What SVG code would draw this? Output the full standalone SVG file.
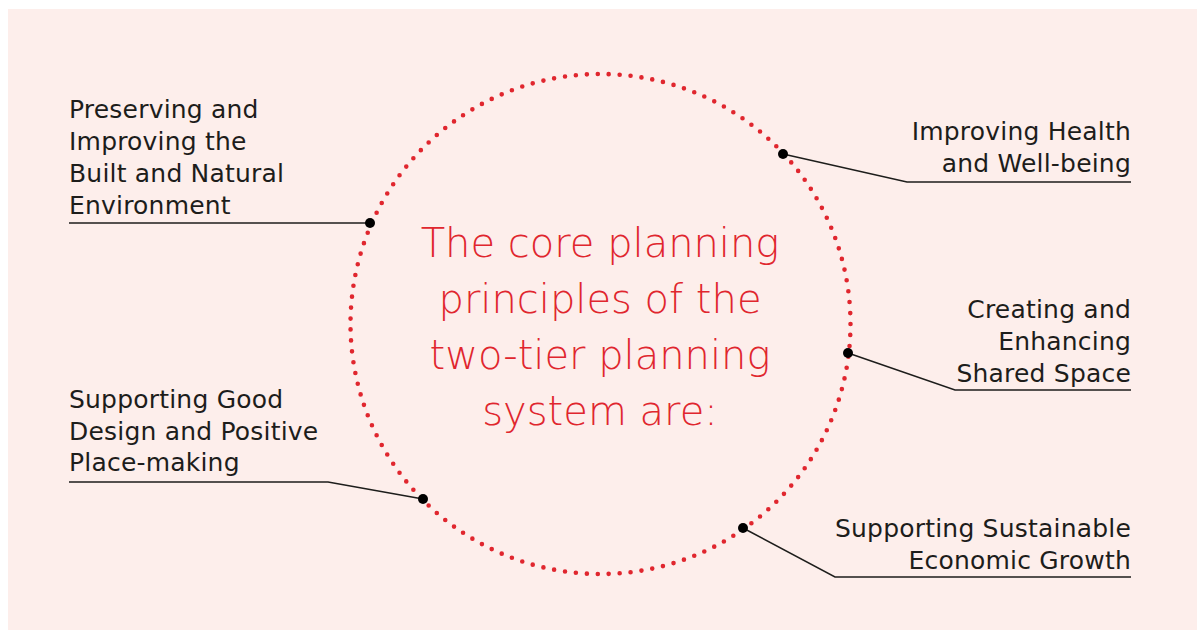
<svg xmlns="http://www.w3.org/2000/svg" width="1197" height="630" viewBox="0 0 1197 630">
<style>
.lbl{font-family:"DejaVu Sans","Liberation Sans",sans-serif;font-size:25px;letter-spacing:0.2px;fill:#1d1d1b}
.r{text-anchor:end}
.title{font-family:"DejaVu Sans","Liberation Sans",sans-serif;font-size:40px;font-weight:200;fill:#e0262e;text-anchor:middle}
.conn{fill:none;stroke:#1d1d1b;stroke-width:1.5}
.dot{fill:#000}
</style>
<rect x="8" y="9" width="1189" height="621" fill="#fdeeeb"/>
<g id="circle">
<circle cx="600.5" cy="324" r="250" fill="none" stroke="#e0262e" stroke-width="4.6" stroke-linecap="round" pathLength="143" stroke-dasharray="0 1"/>
<text class="title" x="600" y="257">The core planning</text>
<text class="title" x="600" y="313">principles of the</text>
<text class="title" x="600" y="369">two-tier planning</text>
<text class="title" x="600" y="425">system are:</text>
</g>
<g id="connectors">
<polyline class="conn" points="69,223 370,223"/>
<polyline class="conn" points="1131,182 907,182 783,154"/>
<polyline class="conn" points="1131,390 955,390 848,353"/>
<polyline class="conn" points="69,482 328,482 423,499"/>
<polyline class="conn" points="1131,577 835,577 743,528"/>
<circle class="dot" cx="370" cy="223" r="5"/>
<circle class="dot" cx="783" cy="154" r="5"/>
<circle class="dot" cx="848" cy="353" r="5"/>
<circle class="dot" cx="423" cy="499" r="5"/>
<circle class="dot" cx="743" cy="528" r="5"/>
</g>
<g id="n1">
<text class="lbl" x="69" y="118">Preserving and</text>
<text class="lbl" x="69" y="150">Improving the</text>
<text class="lbl" x="69" y="182">Built and Natural</text>
<text class="lbl" x="69" y="214">Environment</text>
</g>
<g id="n2">
<text class="lbl r" x="1131" y="140">Improving Health</text>
<text class="lbl r" x="1131" y="172">and Well-being</text>
</g>
<g id="n3">
<text class="lbl r" x="1131" y="318">Creating and</text>
<text class="lbl r" x="1131" y="350">Enhancing</text>
<text class="lbl r" x="1131" y="382">Shared Space</text>
</g>
<g id="n4">
<text class="lbl" x="69" y="408">Supporting Good</text>
<text class="lbl" x="69" y="440">Design and Positive</text>
<text class="lbl" x="69" y="471">Place-making</text>
</g>
<g id="n5">
<text class="lbl r" x="1131" y="537">Supporting Sustainable</text>
<text class="lbl r" x="1131" y="569">Economic Growth</text>
</g>
</svg>
